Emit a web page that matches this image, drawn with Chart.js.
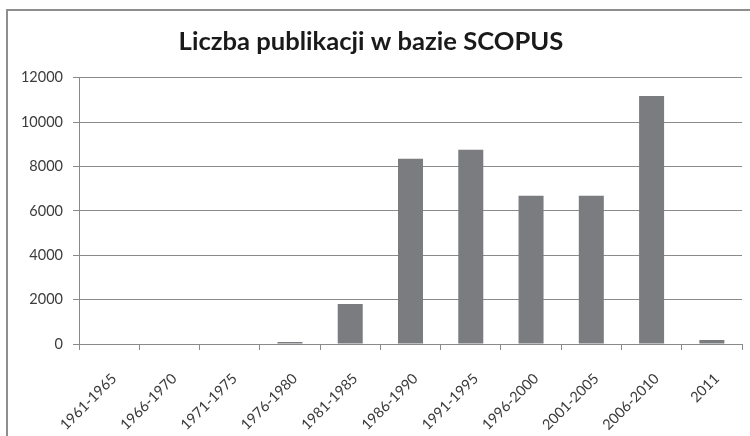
<!DOCTYPE html>
<html>
<head>
<meta charset="utf-8">
<script src="https://cdn.jsdelivr.net/npm/chart.js@4/dist/chart.umd.min.js"></script>
<style>
  html, body { margin: 0; padding: 0; background: #fff; overflow: hidden; }
  #wrap { position: relative; width: 750px; height: 436px; }
  #frame { position: absolute; left: 6px; top: 9px; width: 800px; height: 500px;
           border-left: 2px solid #8e8e8e; border-top: 2px solid #8e8e8e; pointer-events: none; }
  canvas { position: absolute; left: 0; top: 0; }
</style>
</head>
<body>
<div id="wrap">
  <canvas id="c" width="750" height="436"></canvas>
  <div id="frame"></div>
</div>
<script>
const categories = ["1961-1965","1966-1970","1971-1975","1976-1980","1981-1985","1986-1990","1991-1995","1996-2000","2001-2005","2006-2010","2011"];
const publications = [0, 0, 0, 90, 1800, 8350, 8750, 6680, 6680, 11180, 180];
const yTicks = [0, 2000, 4000, 6000, 8000, 10000, 12000];
const titleText = "Liczba publikacji w bazie SCOPUS";

const gridColor = "#8a8a8a";
const tickColor = "#3c3c3c";

new Chart(document.getElementById("c"), {
  type: "bar",
  data: {
    labels: categories,
    datasets: [{
      data: publications,
      backgroundColor: "#7b7c80",
      borderWidth: 0,
      categoryPercentage: 1.0,
      barPercentage: 0.415
    }]
  },
  options: {
    responsive: false,
    animation: false,
    devicePixelRatio: 1,
    layout: { padding: { left: 0, right: 8, top: 0, bottom: 0 } },
    plugins: {
      legend: { display: false },
      tooltip: { enabled: false },
      title: {
        display: true,
        text: titleText,
        color: "#1a1a1a",
        font: { family: "Lato", size: 25.6, weight: "bold" },
        padding: { top: 26, bottom: 21 }
      }
    },
    scales: {
      x: {
        grid: { drawOnChartArea: false, drawTicks: true, tickLength: 6, color: gridColor, offset: true },
        border: { display: true, color: gridColor, width: 1 },
        ticks: {
          color: tickColor,
          font: { family: "Lato", size: 14.5 },
          minRotation: 45, maxRotation: 45, autoSkip: false, padding: 20, labelOffset: 5
        },
        afterFit: (s) => { s.height = 92; }
      },
      y: {
        min: 0, max: 12000,
        grid: { color: gridColor, tickLength: 6, drawTicks: true },
        border: { display: true, color: gridColor, width: 1 },
        ticks: {
          stepSize: 2000,
          color: tickColor,
          font: { family: "Lato", size: 14.5 },
          padding: 10,
          callback: (v) => yTicks.includes(v) ? String(v) : null
        },
        afterFit: (s) => { s.width = 79; }
      }
    }
  }
});
</script>
</body>
</html>
